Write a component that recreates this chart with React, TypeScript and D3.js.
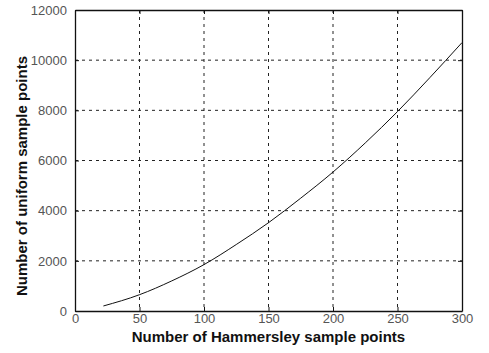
import * as d3 from 'd3';
import React, { useRef, useEffect } from 'react';

// curve
const hammersley = [22, 50, 75, 100, 125, 150, 175, 200, 225, 250, 275, 300];
const uniform = [200, 650, 1200, 1850, 2650, 3520, 4500, 5540, 6700, 7950, 9300, 10700];
const xTicks = [0, 50, 100, 150, 200, 250, 300];
const yTicks = [0, 2000, 4000, 6000, 8000, 10000, 12000];

const App = () => {
    const ref = useRef<HTMLDivElement>(null);

    useEffect(() => {
        d3.select(ref.current).selectAll('svg').remove();

        const W = 489, H = 353;
        const margin = { top: 10, right: 27, bottom: 42, left: 75 };
        const width = W - margin.left - margin.right;
        const height = H - margin.top - margin.bottom;

        const root = d3.select(ref.current)
            .append('svg')
            .attr('width', W)
            .attr('height', H)
            .style('display', 'block')
            .style('background', '#fff');

        const svg = root.append('g')
            .attr('transform', `translate(${margin.left},${margin.top})`);

        const x = d3.scaleLinear().domain([0, 300]).range([0, width]);
        const y = d3.scaleLinear().domain([0, 12000]).range([height, 0]);

        // grid
        svg.append('g')
            .selectAll('line')
            .data(xTicks.slice(1, -1))
            .enter().append('line')
            .attr('x1', d => x(d)).attr('x2', d => x(d))
            .attr('y1', 0).attr('y2', height)
            .attr('stroke', '#222')
            .attr('stroke-width', 1)
            .attr('stroke-dasharray', '3,4');

        svg.append('g')
            .selectAll('line')
            .data(yTicks.slice(1, -1))
            .enter().append('line')
            .attr('x1', 0).attr('x2', width)
            .attr('y1', d => y(d)).attr('y2', d => y(d))
            .attr('stroke', '#222')
            .attr('stroke-width', 1)
            .attr('stroke-dasharray', '3,4');

        const fontFam = '"Liberation Sans", Arial, sans-serif';
        const fmt = d3.format('d');

        // axes with inward ticks
        const xAxis = svg.append('g')
            .attr('transform', `translate(0,${height})`)
            .call(d3.axisBottom(x).tickValues(xTicks).tickFormat(fmt).tickSizeInner(-4).tickSizeOuter(0).tickPadding(3));
        const yAxis = svg.append('g')
            .call(d3.axisLeft(y).tickValues(yTicks).tickFormat(fmt).tickSizeInner(-4).tickSizeOuter(0).tickPadding(8));
        svg.append('g')
            .call(d3.axisTop(x).tickValues(xTicks).tickSizeInner(-4).tickSizeOuter(0).tickFormat(() => ''));
        svg.append('g')
            .attr('transform', `translate(${width},0)`)
            .call(d3.axisRight(y).tickValues(yTicks).tickSizeInner(-4).tickSizeOuter(0).tickFormat(() => ''));

        root.selectAll('.domain').attr('stroke', '#111').attr('stroke-width', 1.3);
        root.selectAll('.tick line').attr('stroke', '#111');
        for (const a of [xAxis, yAxis]) {
            a.selectAll('text')
                .style('font-family', fontFam)
                .style('font-size', '13px')
                .attr('fill', '#555');
        }

        // curve
        const pts = hammersley.map((h, i) => [h, uniform[i]] as [number, number]);
        svg.append('path')
            .datum(pts)
            .attr('fill', 'none')
            .attr('stroke', '#111')
            .attr('stroke-width', 1)
            .attr('d', d3.line<[number, number]>()
                .x(d => x(d[0]))
                .y(d => y(d[1]))
                .curve(d3.curveMonotoneX));

        // titles
        root.append('text')
            .attr('x', margin.left + width / 2)
            .attr('y', 342)
            .attr('text-anchor', 'middle')
            .style('font-family', fontFam)
            .style('font-size', '15px')
            .style('font-weight', 'bold')
            .attr('fill', '#111')
            .text('Number of Hammersley sample points');

        root.append('text')
            .attr('transform', `translate(27,176) rotate(-90)`)
            .attr('text-anchor', 'middle')
            .style('font-family', fontFam)
            .style('font-size', '15px')
            .style('font-weight', 'bold')
            .attr('fill', '#111')
            .text('Number of uniform sample points');
    }, []);

    return (
        <div ref={ref} style={{ position: 'absolute', left: 0, top: 0 }}>
        </div>
    );
};

export default App;
